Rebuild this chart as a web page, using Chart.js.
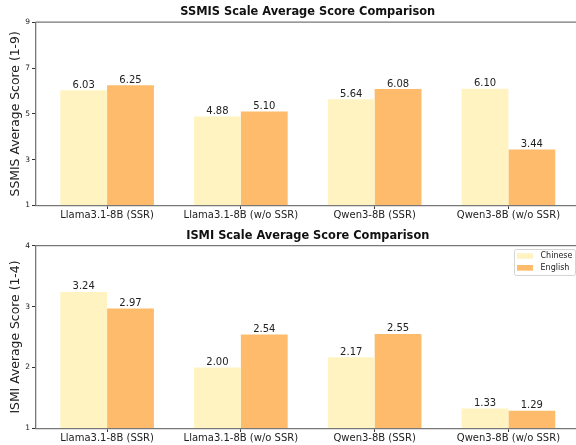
<!DOCTYPE html>
<html>
<head>
<meta charset="utf-8">
<script src="https://cdn.jsdelivr.net/npm/chart.js@4.4.1/dist/chart.umd.min.js"></script>
<style>
  html, body { margin: 0; padding: 0; background: #fff; width: 576px; height: 445px; overflow: hidden; }
  #c1 { position: absolute; left: 0; top: 0; }
  #c2 { position: absolute; left: 0; top: 222px; }
</style>
</head>
<body>
<canvas id="c1" width="616" height="222"></canvas>
<canvas id="c2" width="616" height="223"></canvas>
<script>
const categories = ['Llama3.1-8B (SSR)', 'Llama3.1-8B (w/o SSR)', 'Qwen3-8B (SSR)', 'Qwen3-8B (w/o SSR)'];
const seriesNames = ['Chinese', 'English'];
const ssmisChinese = [6.03, 4.88, 5.64, 6.10];
const ssmisEnglish = [6.25, 5.10, 6.08, 3.44];
const ismiChinese = [3.24, 2.00, 2.17, 1.33];
const ismiEnglish = [2.97, 2.54, 2.55, 1.29];
const ssmisTicks = [1, 3, 5, 7, 9];
const ismiTicks = [1, 2, 3, 4];
const ssmisTitle = 'SSMIS Scale Average Score Comparison';
const ismiTitle = 'ISMI Scale Average Score Comparison';
const ssmisYLabel = 'SSMIS Average Score (1-9)';
const ismiYLabel = 'ISMI Average Score (1-4)';

const COLORS = ['#FFF4C1', '#FDBB6B'];
const FONT = "'DejaVu Sans', sans-serif";
const SPINE = '#777777';

const valueLabels = {
  id: 'valueLabels',
  afterDatasetsDraw(chart) {
    const ctx = chart.ctx;
    ctx.save();
    ctx.font = '10px ' + FONT;
    ctx.fillStyle = '#222';
    ctx.textAlign = 'center';
    ctx.textBaseline = 'alphabetic';
    chart.data.datasets.forEach((ds, di) => {
      chart.getDatasetMeta(di).data.forEach((el, i) => {
        ctx.fillText(ds.data[i].y.toFixed(2), el.x, el.y - 2.5);
      });
    });
    ctx.restore();
  }
};

const topSpine = {
  id: 'topSpine',
  afterDraw(chart) {
    const a = chart.chartArea, ctx = chart.ctx;
    ctx.save();
    ctx.strokeStyle = SPINE;
    ctx.lineWidth = 1.3;
    ctx.beginPath();
    ctx.moveTo(a.left, a.top);
    ctx.lineTo(a.right + 1, a.top);
    ctx.stroke();
    ctx.restore();
  }
};

const boxLegend = {
  id: 'boxLegend',
  afterDraw(chart) {
    const ctx = chart.ctx;
    const x0 = 514, y0 = 27, w = 61, h = 26;
    ctx.save();
    ctx.fillStyle = 'rgba(255,255,255,0.85)';
    ctx.strokeStyle = '#d4d4d4';
    ctx.lineWidth = 1;
    ctx.beginPath();
    ctx.roundRect(x0 + 0.5, y0 + 0.5, w, h, 2);
    ctx.fill();
    ctx.stroke();
    ctx.font = '8px ' + FONT;
    ctx.textBaseline = 'middle';
    ctx.textAlign = 'left';
    chart.data.datasets.forEach((ds, i) => {
      const py = y0 + 4.2 + i * 11.8;
      ctx.fillStyle = ds.backgroundColor;
      ctx.fillRect(x0 + 3, py, 16, 5.6);
      ctx.fillStyle = '#222';
      ctx.fillText(ds.label, x0 + 26.5, py + 3);
    });
    ctx.restore();
  }
};

function makeChart(id, title, yLabel, chinese, english, yTicks, titlePad, withLegend) {
  const values = [chinese, english];
  const datasets = seriesNames.map((name, s) => ({
    label: name,
    data: values[s].map((v, i) => ({ x: i, y: v })),
    backgroundColor: COLORS[s],
    borderWidth: 0,
    base: yTicks[0],
    categoryPercentage: 0.7,
    barPercentage: 1.0
  }));
  const plugins = [valueLabels, topSpine];
  if (withLegend) plugins.push(boxLegend);
  return new Chart(document.getElementById(id), {
    type: 'bar',
    data: { datasets },
    plugins,
    options: {
      responsive: false,
      animation: false,
      devicePixelRatio: 1,
      layout: { padding: { left: 0, right: 36, top: 0, bottom: 0 } },
      plugins: {
        legend: { display: false },
        tooltip: { enabled: false },
        title: {
          display: true,
          fullSize: false,
          text: title,
          color: '#111',
          font: { family: FONT, size: 11.4, weight: 'bold' },
          padding: titlePad
        }
      },
      scales: {
        x: {
          type: 'linear',
          offset: false,
          min: -0.535,
          max: 3.535,
          afterBuildTicks: (scale) => { scale.ticks = categories.map((_, i) => ({ value: i })); },
          afterFit: (scale) => { scale.height = 16.5; },
          ticks: {
            autoSkip: false,
            maxRotation: 0,
            padding: 0,
            color: '#222',
            font: { family: FONT, size: 10 },
            callback: (v) => categories[v]
          },
          grid: { display: true, drawOnChartArea: false, drawTicks: true, tickLength: 3.5, tickColor: '#333', offset: false },
          border: { display: true, color: SPINE, width: 1.3 }
        },
        y: {
          min: yTicks[0],
          max: yTicks[yTicks.length - 1],
          afterBuildTicks: (scale) => { scale.ticks = yTicks.map(v => ({ value: v })); },
          afterFit: (scale) => { scale.width = 35.5; },
          ticks: {
            padding: 2,
            color: '#222',
            font: { family: FONT, size: 7.5 },
            callback: (v) => String(v)
          },
          grid: { display: true, drawOnChartArea: false, drawTicks: true, tickLength: 3.5, tickColor: '#333' },
          border: { display: true, color: SPINE, width: 1.3 },
          title: {
            display: true,
            text: yLabel,
            color: '#222',
            font: { family: FONT, size: 12.4 },
            padding: { top: 8.5, bottom: 0 }
          }
        }
      }
    }
  });
}

makeChart('c1', ssmisTitle, ssmisYLabel, ssmisChinese, ssmisEnglish, ssmisTicks, { top: 5.5, bottom: 3 }, false);
makeChart('c2', ismiTitle, ismiYLabel, ismiChinese, ismiEnglish, ismiTicks, { top: 7.2, bottom: 2.7 }, true);
</script>
</body>
</html>
